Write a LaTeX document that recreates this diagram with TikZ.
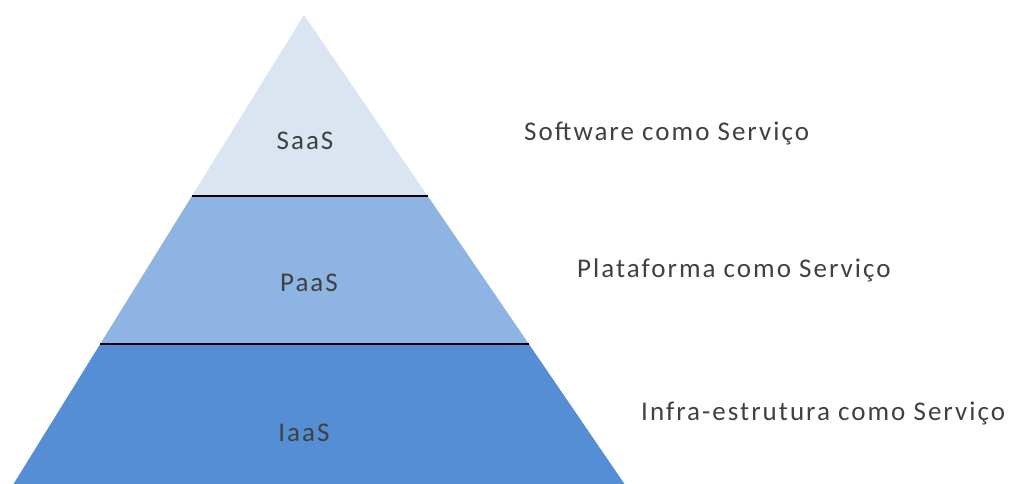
\documentclass[tikz,border=0pt]{standalone}
\usepackage{fontspec}
\setmainfont{Carlito}[LetterSpace=7.5]
\usetikzlibrary{calc}
\definecolor{saasfill}{HTML}{DBE5F1}
\definecolor{paasfill}{HTML}{8EB4E3}
\definecolor{iaasfill}{HTML}{558ED5}
\definecolor{txt}{HTML}{404040}
\begin{document}
\begin{tikzpicture}[x=1pt,y=-1pt,
  lbl/.style={text=txt,font=\fontsize{27}{32}\selectfont,inner sep=0pt},
  sidelbl/.style={lbl,anchor=west},
  divider/.style={draw=black,line width=2.2pt}]
\useasboundingbox (0,0) rectangle (1012,484);
\coordinate (A) at (304,15);
\coordinate (BL) at (13.5,484);
\coordinate (BR) at (624.5,484);
\coordinate (L1) at ($(A)!0.386!(BL)$);
\coordinate (R1) at ($(A)!0.386!(BR)$);
\coordinate (L2) at ($(A)!0.7015!(BL)$);
\coordinate (R2) at ($(A)!0.7015!(BR)$);
\fill[saasfill] (A) -- (R1) -- (L1) -- cycle;
\fill[paasfill] (L1) -- (R1) -- (R2) -- (L2) -- cycle;
\fill[iaasfill] (L2) -- (R2) -- (BR) -- (BL) -- cycle;
\draw[divider] (L1) -- (R1);
\draw[divider] (L2) -- (R2);
\node[lbl] (saas) at (305,141) {SaaS};
\node[lbl] (paas) at (309,283) {PaaS};
\node[lbl] (iaas) at (304,433) {IaaS};
\node[sidelbl] (saasl) at (524,133) {Software como Serviço};
\node[sidelbl] (paasl) at (577,270) {Plataforma como Serviço};
\node[sidelbl] (iaasl) at (641,413) {Infra-estrutura como Serviço};
\end{tikzpicture}
\end{document}
